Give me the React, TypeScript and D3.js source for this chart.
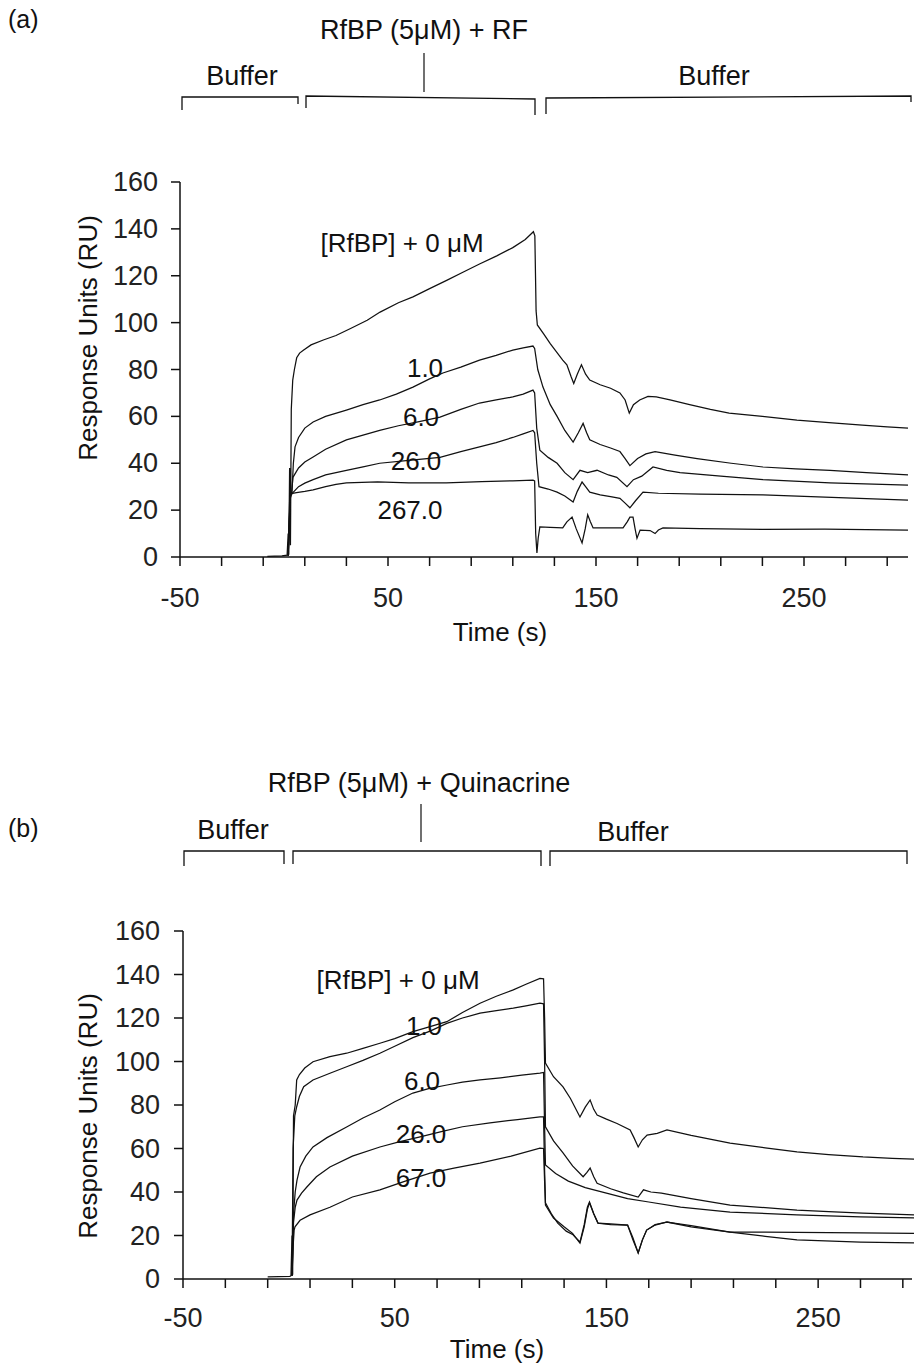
import React from 'react';
import * as d3 from 'd3';

// ---------- tick values ----------
const xTickValues = [-50, -30, -10, 10, 30, 50, 70, 90, 110, 130, 150, 170, 190, 210, 230, 250, 270, 290];
const xTickLabels = [-50, 50, 150, 250];
const yTickValues = [0, 20, 40, 60, 80, 100, 120, 140, 160];

// ---------- panel (a): RfBP (5 µM) + RF ----------
const aSeriesNames = ['[RfBP] + 0 \u03bcM', '1.0', '6.0', '26.0', '267.0'];
const a_rf0: [number, number][] = [[-8,0.3],[-1,0.5],[1.5,0.8],[2,10],[2.3,1],[2.7,38],[3.1,5],[3.5,63],[4.2,75.5],[5,80],[6.1,85],[7.5,87],[9.3,88.2],[13,90.5],[18.9,92.6],[25,94.5],[32,97.5],[40,101],[46.2,104.5],[55,108.5],[62,111],[70,114.5],[78.2,118],[86,121.5],[94,125],[102.3,128.5],[110,132],[116,135.5],[119.9,138.8],[120.6,137],[121.2,105],[121.8,99],[125,95],[128,91],[131,87.5],[134,84],[136,82],[138,77],[139.3,74],[141,78],[143,82],[145,78],[147,75.5],[152,73.5],[157,72],[161.5,70],[164,67],[166,61.4],[168,65],[171,67],[175,68.5],[179,68.3],[185.6,67],[195,65],[205,63],[214,61.4],[230,60],[246.6,58.4],[262,57.3],[278,56.3],[290,55.5],[300,55]];
const a_rf1: [number, number][] = [[2,0.5],[3,25],[3.8,27],[4.5,40],[5.3,47],[7,51],[10,55],[14,57.6],[20,60],[30,62.7],[38,65],[46,67],[54,69.5],[62,72.5],[70,76],[76.4,78.5],[85,81],[94,84],[102,86],[110,88.3],[115,89.2],[119.7,90],[120.5,89],[122,80],[124.5,72.5],[128,65],[131.3,60],[135,54],[139,49],[141.5,53],[143.8,57],[145.5,53],[147,50],[152,48],[157,46.5],[161.5,45],[164,42],[166.3,39],[170,42],[174,44],[178.4,45],[188,43.5],[198.6,42],[215,40],[230.3,38.4],[246,37.6],[262.5,37],[280,36],[300,35]];
const a_rf6: [number, number][] = [[2,0.5],[3,27],[3.6,27],[4.3,34],[7,38],[10,40.5],[14,42.7],[20,46],[30,50],[38,52],[46,54],[55,56],[65,57.8],[75,59.7],[85,63],[94,65.7],[102,67],[110,68.3],[115,69.5],[119.7,71.2],[120.5,70],[121.5,55],[123,45.6],[127,42.5],[131.3,40],[135,36],[139,33],[142.3,37],[146,36],[150.5,37],[156,35],[160,34],[164.9,30],[168,33],[172,34.5],[177.4,38.4],[184,37],[190.4,36],[210,34.5],[230.3,33],[262.5,31.6],[300,30.7]];
const a_rf26: [number, number][] = [[2,0.5],[3,27],[3.8,27],[7,30],[10,31.5],[14,33],[20,35],[30,37],[38,38.5],[46,40],[60,41.2],[75,42.5],[85,45],[94,47],[102,48.8],[110,51],[115,52.5],[119.7,54],[120.5,53],[121.5,40],[122.6,30],[127,29],[131.3,27.7],[135,26],[139,23.5],[141,28],[143.3,32],[145,30],[147,27.7],[152,26.5],[157,25.8],[161.5,25],[164,23],[166.3,21],[169,24],[172.6,27.7],[180,27.2],[200,26.8],[230.3,26.5],[260,25.5],[300,24.3]];
const a_rf267: [number, number][] = [[2,0.5],[2.8,27],[3.5,27],[6,27.5],[10,28],[14,28.6],[20,30],[25,31],[30,31.6],[45,32],[60,31.6],[78,31.6],[95,32.2],[110,32.5],[119.7,32.8],[120.5,32.5],[121,10],[121.6,1.7],[122.2,8],[123,12.8],[128,12.6],[134,12.4],[136,15],[138.5,17],[140.5,12],[143.3,6],[144.8,12],[146,18],[147.3,15],[148.6,12.4],[155,12.4],[163,12.4],[165,15],[166.3,17],[167.8,17],[168.8,12],[169.7,8],[171.2,11.5],[176,11.3],[178.4,10],[180,11.5],[182.2,12.4],[200,12.1],[230,11.8],[260,11.9],[300,11.5]];

// ---------- panel (b): RfBP (5 µM) + Quinacrine ----------
const bSeriesNames = ['[RfBP] + 0 \u03bcM', '1.0', '6.0', '26.0', '67.0'];
const b_q0: [number, number][] = [[-10,1],[0.5,1.2],[1,1.5],[1.5,20],[1.8,2],[2.2,75],[3,80],[3.7,91.5],[5,94],[7.5,97],[11.4,99.9],[19.4,102.2],[27.3,103.8],[35,106],[43,108.4],[50,110.5],[58.6,113.7],[66.7,116],[74.6,118.3],[82,122.5],[90.3,126.8],[98,130],[106,132.9],[112,135.5],[118.6,138.2],[120.3,138],[120.8,120],[121.2,99.3],[125,93],[129.5,88.3],[133,83],[137.5,74.5],[140,79],[142.3,82.3],[144,78],[145.6,75.4],[150,73.5],[155,71.5],[161.2,68.5],[163,65],[165,60.7],[167,64],[169.2,66.2],[174,67],[178.6,68.5],[190,66],[208.4,62.5],[225,60.3],[240,58.4],[255,57.2],[271.2,56.1],[285,55.5],[300,55]];
const b_q1: [number, number][] = [[1.5,1.5],[2,60],[2.8,75],[3.7,79.2],[5,84],[7,88.4],[11.4,91.5],[19.4,94.6],[27.3,97.6],[35,100.5],[43,103.8],[50,107],[58.6,111],[66.7,114],[74.6,117.5],[82,120],[90.3,122.2],[98,123.4],[106,124.5],[112,125.6],[118.6,126.8],[120.3,126.5],[120.8,100],[121.2,70],[125,63.5],[129.5,58],[134,52],[139,47],[140.8,49],[142.3,51],[144,47],[145.6,44],[152,41.5],[158,39.6],[165,37.7],[167.5,41],[171,40],[176,39.5],[190,37],[208.4,34],[225,32.8],[240,31.7],[255,31],[271,30.3],[285,29.8],[300,29.4]];
const b_q6: [number, number][] = [[1.5,1.5],[2.2,30],[3,40],[3.85,45.5],[5.3,51.5],[8,56.5],[11.4,60.7],[18,65],[27.5,70],[35,74],[43,77.7],[50,81.5],[58.6,85.5],[66,87.5],[74.7,89.2],[82,90.5],[90.3,91.5],[100,92.5],[110,93.7],[118.6,94.7],[120.3,95],[120.8,70],[121.2,52.4],[126,48.5],[132,45],[140,42],[150,39.5],[160,37],[170,35.4],[185,33],[208.4,30.8],[240,29.5],[270,28.6],[300,28]];
const b_q26: [number, number][] = [[1.5,1.5],[2.2,26],[3,33],[3.85,36.3],[6,39.5],[8.5,42.3],[13,47],[19.4,51.5],[30,56.5],[43,60.7],[52,63],[62,65.3],[72,67.8],[82,70],[95,71.8],[108,73.3],[118.6,74.5],[120.3,74.5],[120.8,50],[121.2,35],[124,30],[127,25.7],[131,22],[134,20.5],[137.5,17],[139.5,25],[141,33],[142,35.4],[144,30],[146,25.7],[152,25.3],[160,24.8],[162.5,19],[165,12],[167,18],[169,22.5],[173,25],[178.6,26.2],[190,24.5],[208.4,21.6],[225,21.6],[240,21.4],[270,21.2],[300,21]];
const b_q67: [number, number][] = [[1.5,1.5],[2,15],[2.5,22.5],[2.9,24],[5.3,27],[10,29.5],[19.4,33],[30,37.7],[43,41],[55,45],[66.7,48.7],[78,51],[90.3,53.3],[105,56.5],[118.6,60.2],[120.3,60],[120.8,45],[121.2,34],[125,28],[130,24],[134,21],[137.5,16.5],[139.5,24],[141,32],[142,35],[144,30],[146,25.7],[152,25],[160,24.8],[162.5,18],[165,12],[167,18],[169,22.5],[173,24.8],[178.6,26.2],[190,24],[208.4,21.6],[225,19.6],[240,18],[270,17],[300,16.5]];

const FONT = "'Liberation Sans', Arial, Helvetica, sans-serif";

type Pt = [number, number];

interface PanelProps {
  xRange: [number, number];
  yRange: [number, number];
  axisEnd: number;
  series: Pt[][];
  names: string[];
  labelPos: [number, number][];
  tickLabelY: number;
  xTitle: [number, number];
  yTitle: [number, number];
  tickLabelX: number;
}

function Panel(p: PanelProps) {
  const x = d3.scaleLinear().domain([-50, 300]).range(p.xRange);
  const y = d3.scaleLinear().domain([0, 160]).range(p.yRange);
  const line = d3.line<Pt>().x(d => x(d[0])).y(d => y(d[1]));
  const x0 = p.xRange[0];
  const y0 = p.yRange[0];
  return (
    <g>
      {p.series.map((s, i) => (
        <path key={i} d={line(s) || ''} fill="none" stroke="#111" strokeWidth={1.25} strokeLinejoin="miter" />
      ))}
      {/* axes */}
      <line x1={x0} x2={p.axisEnd} y1={y0} y2={y0} stroke="#111" strokeWidth={1.5} />
      <line x1={x0} x2={x0} y1={y0} y2={p.yRange[1]} stroke="#111" strokeWidth={1.5} />
      {xTickValues.map(v => (
        <line key={v} x1={x(v)} x2={x(v)} y1={y0} y2={y0 + 9} stroke="#111" strokeWidth={1.5} />
      ))}
      {yTickValues.map(v => (
        <line key={v} x1={x0 - 9} x2={x0} y1={y(v)} y2={y(v)} stroke="#111" strokeWidth={1.5} />
      ))}
      {xTickLabels.map(v => (
        <text key={v} x={x(v)} y={p.tickLabelY} textAnchor="middle" dominantBaseline="central"
          fontFamily={FONT} fontSize={27} fill="#222">{v}</text>
      ))}
      {yTickValues.map(v => (
        <text key={v} x={p.tickLabelX} y={y(v)} textAnchor="end" dominantBaseline="central"
          fontFamily={FONT} fontSize={27} fill="#222">{v}</text>
      ))}
      <text x={p.xTitle[0]} y={p.xTitle[1]} textAnchor="middle" dominantBaseline="central"
        fontFamily={FONT} fontSize={26} fill="#111">Time (s)</text>
      <text transform={`translate(${p.yTitle[0]},${p.yTitle[1]}) rotate(-90)`}
        textAnchor="middle" dominantBaseline="central" fontFamily={FONT} fontSize={26} fill="#111">Response Units (RU)</text>
      {p.names.map((n, i) => (
        <text key={n} x={p.labelPos[i][0]} y={p.labelPos[i][1]} textAnchor="middle" dominantBaseline="central"
          fontFamily={FONT} fontSize={26} fill="#111">{n}</text>
      ))}
    </g>
  );
}

function Header(props: {
  letter: string; letterY: number; title: string; titleX: number; titleY: number;
  tickX: number; tickY1: number; tickY2: number;
  buf1X: number; buf1Y: number; buf2X: number; buf2Y: number;
  brackets: { x1: number; x2: number; yl: number; yr: number; bl: number; br: number }[];
}) {
  return (
    <g fontFamily={FONT} fill="#111">
      <text x={8} y={props.letterY} dominantBaseline="central" fontSize={25}>{props.letter}</text>
      <text x={props.titleX} y={props.titleY} textAnchor="middle" dominantBaseline="central" fontSize={27}>{props.title}</text>
      <line x1={props.tickX} x2={props.tickX} y1={props.tickY1} y2={props.tickY2} stroke="#111" strokeWidth={1.2} />
      <text x={props.buf1X} y={props.buf1Y} textAnchor="middle" dominantBaseline="central" fontSize={27}>Buffer</text>
      <text x={props.buf2X} y={props.buf2Y} textAnchor="middle" dominantBaseline="central" fontSize={27}>Buffer</text>
      {props.brackets.map((b, i) => (
        <path key={i} d={`M${b.x1},${b.bl} L${b.x1},${b.yl} L${b.x2},${b.yr} L${b.x2},${b.br}`}
          fill="none" stroke="#111" strokeWidth={1.3} />
      ))}
    </g>
  );
}

export default function App() {
  return (
    <svg width={914} height={1364} style={{ position: 'absolute', left: 0, top: 0, background: '#fff' }}>
      <rect x={0} y={0} width={914} height={1364} fill="#fff" />
      <Header letter="(a)" letterY={19} title={'RfBP (5\u03bcM) + RF'} titleX={424} titleY={30}
        tickX={424} tickY1={53} tickY2={92} buf1X={242} buf1Y={76} buf2X={714} buf2Y={76}
        brackets={[
          { x1: 182, x2: 298, yl: 97, yr: 97, bl: 110, br: 104 },
          { x1: 306, x2: 535, yl: 96, yr: 99, bl: 108, br: 115 },
          { x1: 546, x2: 911, yl: 98, yr: 96, bl: 114, br: 102 },
        ]} />
      <Panel xRange={[180, 908]} yRange={[557, 182]} axisEnd={908}
        series={[a_rf0, a_rf1, a_rf6, a_rf26, a_rf267]} names={aSeriesNames}
        labelPos={[[402, 243], [425, 368], [421, 417], [416, 461], [410, 510]]}
        tickLabelY={598} xTitle={[500, 632]} tickLabelX={158}
        yTitle={[88, 338]} />
      <Header letter="(b)" letterY={828} title={'RfBP (5\u03bcM) + Quinacrine'} titleX={419} titleY={783}
        tickX={421} tickY1={804} tickY2={842} buf1X={233} buf1Y={830} buf2X={633} buf2Y={832}
        brackets={[
          { x1: 184, x2: 284, yl: 851, yr: 851, bl: 866, br: 864 },
          { x1: 293, x2: 541, yl: 851, yr: 851, bl: 864, br: 866 },
          { x1: 550, x2: 907, yl: 851, yr: 851, bl: 866, br: 864 },
        ]} />
      <Panel xRange={[183, 924]} yRange={[1279, 931]} axisEnd={912}
        series={[b_q0, b_q1, b_q6, b_q26, b_q67]} names={bSeriesNames}
        labelPos={[[398, 980], [424, 1026], [422, 1081], [421, 1134], [421, 1178]]}
        tickLabelY={1318} xTitle={[497, 1349]} tickLabelX={160}
        yTitle={[88, 1116]} />
    </svg>
  );
}
